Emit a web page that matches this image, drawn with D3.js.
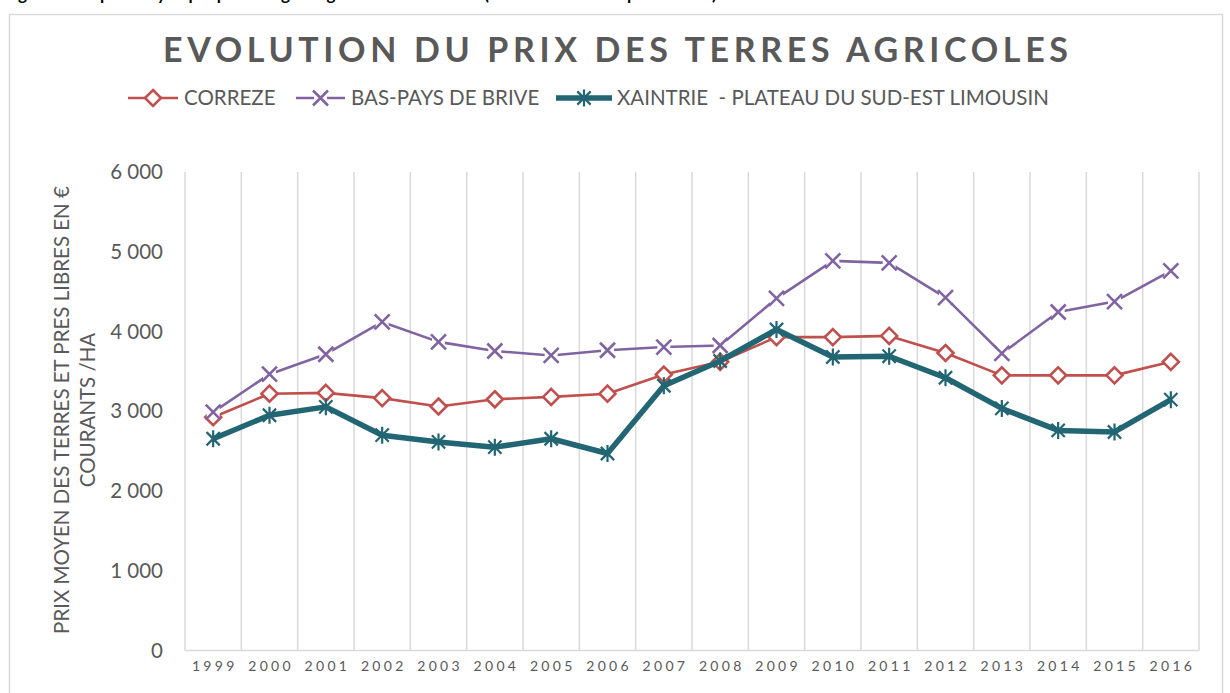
<!DOCTYPE html>
<html>
<head>
<meta charset="utf-8">
<script src="https://cdn.jsdelivr.net/npm/d3@7"></script>
<style>
  html, body { margin: 0; padding: 0; background: #ffffff; }
  svg { display: block; }
  text { font-family: Lato, "Open Sans", sans-serif; }
</style>
</head>
<body>
<svg id="chart" width="1230" height="693"></svg>
<script>
// Prix moyen des terres et prés libres (€ courants / ha)
const years = ["1999","2000","2001","2002","2003","2004","2005","2006","2007","2008",
               "2009","2010","2011","2012","2013","2014","2015","2016"];
const correze = [2925,3220,3230,3165,3060,3150,3180,3220,3460,3620,
                 3930,3930,3945,3730,3450,3450,3450,3620];
const basPaysDeBrive = [2990,3465,3715,4120,3870,3755,3700,3765,3805,3825,
                        4415,4885,4860,4425,3725,4245,4375,4760];
const xaintrie = [2655,2950,3055,2700,2615,2550,2655,2470,3320,3630,
                  4025,3680,3690,3420,3035,2760,2740,3145];
const yTicks = [0,1000,2000,3000,4000,5000,6000];

const seriesNames = ["CORREZE", "BAS-PAYS DE BRIVE", "XAINTRIE  - PLATEAU DU SUD-EST LIMOUSIN"];

const svg = d3.select("#chart");
const grey = "#595959";
const gridColor = "#d9d9d9";

// frame of the chart area
svg.append("rect")
  .attr("x", 9.5).attr("y", 14.5)
  .attr("width", 1213).attr("height", 700)
  .attr("fill", "#fff").attr("stroke", gridColor).attr("stroke-width", 1.5);

// caption line above the frame (clipped by the page edge)
svg.append("text")
  .attr("x", 4).attr("y", 0)
  .attr("font-family", "'Liberation Sans', Arial, sans-serif")
  .attr("font-weight", "bold").attr("font-size", 17)
  .attr("fill", "#000")
  .text("Figure 8 : Le prix moyen par petite région agricole de la Corrèze (en euros courants par hectare)");

const x = d3.scaleBand().domain(years).range([185, 1199]);
const y = d3.scaleLinear().domain([0, 6000]).range([650.5, 172]);

const fr = d3.formatLocale({ decimal: ",", thousands: " ", grouping: [3], currency: ["", " €"] });
const fmt = fr.format(",d");

// vertical gridlines at category boundaries
const bounds = years.map(d => x(d)).concat([x.range()[1]]);
svg.append("g").selectAll("line").data(bounds).join("line")
  .attr("x1", d => d).attr("x2", d => d)
  .attr("y1", y(6000)).attr("y2", y(0))
  .attr("stroke", gridColor).attr("stroke-width", 1.5);

// baseline
svg.append("line")
  .attr("x1", x.range()[0]).attr("x2", x.range()[1])
  .attr("y1", y(0)).attr("y2", y(0))
  .attr("stroke", gridColor).attr("stroke-width", 1.5);

// y axis
const yAxis = svg.append("g")
  .attr("transform", `translate(${x.range()[0]},0)`)
  .call(d3.axisLeft(y).tickValues(yTicks).tickFormat(fmt).tickSize(0).tickPadding(22));
yAxis.select(".domain").remove();
yAxis.selectAll("text")
  .attr("font-family", "Lato, sans-serif")
  .attr("font-size", 20.5).attr("fill", grey);

// x axis
const xAxis = svg.append("g")
  .attr("transform", `translate(0,${y(0)})`)
  .call(d3.axisBottom(x).tickSize(0).tickPadding(11));
xAxis.select(".domain").remove();
xAxis.selectAll("text")
  .attr("font-family", "Lato, sans-serif")
  .attr("font-size", 14).attr("fill", grey)
  .attr("letter-spacing", "3.3px")
  .attr("dx", "1.6px");

// y axis title
const yTitle = svg.append("text")
  .attr("transform", "translate(0,410) rotate(-90)")
  .attr("text-anchor", "middle")
  .attr("font-size", 20.5).attr("fill", grey);
yTitle.append("tspan").attr("x", 0).attr("y", 69).text("PRIX MOYEN DES TERRES ET PRES LIBRES EN €");
yTitle.append("tspan").attr("x", 0).attr("y", 95).text("COURANTS /HA");

// title
svg.append("text")
  .attr("x", 163).attr("y", 62)
  .attr("font-size", 34).attr("font-weight", "bold").attr("fill", grey)
  .attr("textLength", 905).attr("lengthAdjust", "spacing")
  .text("EVOLUTION DU PRIX DES TERRES AGRICOLES");

// marker shapes
const diamond = s => `M0,${-s}L${s},0L0,${s}L${-s},0Z`;
const cross = s => `M${-s},${-s}L${s},${s}M${-s},${s}L${s},${-s}`;
const star = s => {
  const a = s * 0.78;
  return `M0,${-s}L0,${s}M${-a},${-a}L${a},${a}M${-a},${a}L${a},${-a}`;
};

const series = [
  { name: seriesNames[0], values: correze, color: "#c0504d", width: 2.6, marker: "diamond" },
  { name: seriesNames[1], values: basPaysDeBrive, color: "#8064a2", width: 2.6, marker: "cross" },
  { name: seriesNames[2], values: xaintrie, color: "#226573", width: 5.5, marker: "star" }
];

function drawMarker(g, kind, color) {
  if (kind === "diamond") {
    g.append("path").attr("d", diamond(8))
      .attr("fill", "#fff").attr("stroke", color).attr("stroke-width", 2.6);
  } else if (kind === "cross") {
    g.append("rect").attr("x", -6.5).attr("y", -6.5).attr("width", 13).attr("height", 13)
      .attr("fill", "#fff");
    g.append("path").attr("d", cross(7.5))
      .attr("fill", "none").attr("stroke", color).attr("stroke-width", 2.6);
  } else {
    g.append("path").attr("d", star(8.5))
      .attr("fill", "none").attr("stroke", color).attr("stroke-width", 2.2);
  }
}

const line = d3.line()
  .x((d, i) => x(years[i]) + x.bandwidth() / 2)
  .y(d => y(d));

series.forEach(s => {
  const g = svg.append("g");
  g.append("path").datum(s.values)
    .attr("d", line)
    .attr("fill", "none").attr("stroke", s.color)
    .attr("stroke-width", s.width).attr("stroke-linejoin", "round");
  s.values.forEach((v, i) => {
    const m = g.append("g")
      .attr("transform", `translate(${x(years[i]) + x.bandwidth() / 2},${y(v)})`);
    drawMarker(m, s.marker, s.color);
  });
});

// legend
const legendItems = [
  { x0: 128, x1: 178, tx: 184 },
  { x0: 296, x1: 345, tx: 351 },
  { x0: 556, x1: 612, tx: 617 }
];
const legendY = 98;
series.forEach((s, i) => {
  const li = legendItems[i];
  const g = svg.append("g");
  g.append("line")
    .attr("x1", li.x0).attr("x2", li.x1)
    .attr("y1", legendY).attr("y2", legendY)
    .attr("stroke", s.color).attr("stroke-width", s.width);
  const m = g.append("g").attr("transform", `translate(${(li.x0 + li.x1) / 2},${legendY})`);
  drawMarker(m, s.marker, s.color);
  g.append("text")
    .attr("x", li.tx).attr("y", legendY)
    .attr("dy", "0.35em")
    .attr("font-size", 20.5).attr("fill", grey)
    .style("white-space", "pre")
    .text(s.name);
});
</script>
</body>
</html>
